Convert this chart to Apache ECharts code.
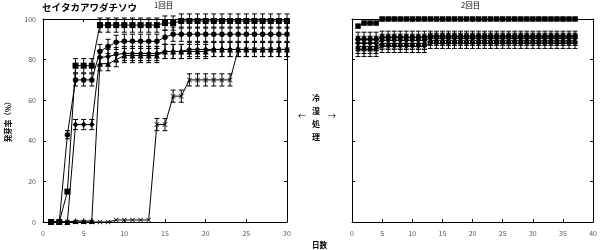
<!DOCTYPE html>
<html><head><meta charset="utf-8">
<script src="https://cdn.jsdelivr.net/npm/echarts@6/dist/echarts.min.js"></script>
<style>html,body{margin:0;padding:0;background:#fff}#c{width:600px;height:250px}</style>
</head><body><div id="c"></div>
<script>
const daysL = [1,2,3,4,5,6,7,8,9,10,11,12,13,14,15,16,17,18,19,20,21,22,23,24,25,26,27,28,29,30];
const daysR = [1,2,3,4,5,6,7,8,9,10,11,12,13,14,15,16,17,18,19,20,21,22,23,24,25,26,27,28,29,30,31,32,33,34,35,36,37];

// 1回目 (left)
const sqL = [0,0,15,77,77,77,97,97,97,97,97,97,97,97,98,98,99,99,99,99,99,99,99,99,99,99,99,99,99,99];
const sqLerr = [0,0,1,3.5,3.5,3.5,3.5,3.5,3.5,3.5,3.5,3.5,3.5,3.5,3.5,3.5,3.5,3.5,3.5,3.5,3.5,3.5,3.5,3.5,3.5,3.5,3.5,3.5,3.5,3.5];
const ciL = [0,0,43,70,70,70,84,86.5,88.5,89,89,89,89,89,91,92.5,92.5,92.5,92.5,92.5,92.5,92.5,92.5,92.5,92.5,92.5,92.5,92.5,92.5,92.5];
const ciLerr = [0,0,2,3,3,3,3.5,3.5,3.5,3.5,3.5,3.5,3.5,3.5,3.5,3.5,3.5,3.5,3.5,3.5,3.5,3.5,3.5,3.5,3.5,3.5,3.5,3.5,3.5,3.5];
const diL = [0,0,0,48,48,48,81,81.5,82.5,83,83,83,83,83,84,84,84,85,85,85,85,85,85,85,85,85,85,85,85,85];
const diLerr = [0,0,0,2.5,2.5,2.5,3.5,3.5,3.5,3.5,3.5,3.5,3.5,3.5,3.5,3.5,3.5,3.5,3.5,3.5,3.5,3.5,3.5,3.5,3.5,3.5,3.5,3.5,3.5,3.5];
const trL = [0,0,0,0.5,0.5,0.5,78,78,80,82,82,82,82,82,84,84,84,84,84,84,85,85,85,85,85,85,85,85,85,85];
const trLerr = [0,0,0,0,0,0,3.5,3.5,3.5,3.5,3.5,3.5,3.5,3.5,3.5,3.5,3.5,3.5,3.5,3.5,3.5,3.5,3.5,3.5,3.5,3.5,3.5,3.5,3.5,3.5];
const xL = [0,0,0,0,0,0,0,0,1,1,1,1,1,48,48,62,62,70,70,70,70,70,70,85,85,85,85,85,85,85];
const xLerr = [0,0,0,0,0,0,0,0,0,0,0,0,0,3,3,3,3,3,3,3,3,3,3,3.5,3.5,3.5,3.5,3.5,3.5,3.5];

// 2回目 (right)
const sqR = [96.5,98,98,98,100,100,100,100,100,100,100,100,100,100,100,100,100,100,100,100,100,100,100,100,100,100,100,100,100,100,100,100,100,100,100,100,100];
const sqRerr = [0,0.5,0.5,0.5,0.5,0.5,0.5,0.5,0.5,0.5,0.5,0.5,0.5,0.5,0.5,0.5,0.5,0.5,0.5,0.5,0.5,0.5,0.5,0.5,0.5,0.5,0.5,0.5,0.5,0.5,0.5,0.5,0.5,0.5,0.5,0.5,0.5];
const ciR = [90,90,90,90,91,91,91,91,91,91,91,91,91.5,91.5,91.5,91.5,91.5,91.5,91.5,91.5,91.5,91.5,91.5,91.5,91.5,91.5,91.5,91.5,91.5,91.5,91.5,91.5,91.5,91.5,91.5,91.5,91.5];
const diR = [88,88,88,88,89.5,89.5,89.5,89.5,89.5,89.5,89.5,89.5,90.5,90.5,90.5,90.5,90.5,90.5,90.5,90.5,90.5,90.5,90.5,90.5,90.5,90.5,90.5,90.5,90.5,90.5,90.5,90.5,90.5,90.5,90.5,90.5,90.5];
const trR = [86.5,86.5,86.5,86.5,88,88,88,88,88,88,88,88,89.5,89.5,89.5,89.5,89.5,89.5,89.5,89.5,89.5,89.5,89.5,89.5,89.5,89.5,89.5,89.5,89.5,89.5,89.5,89.5,89.5,89.5,89.5,89.5,89.5];
const xR = [85,85,85,85,86.5,86.5,86.5,86.5,86.5,86.5,86.5,86.5,88,88,88,88,88,88,88,88,88,88,88,88,88,88,88,88,88,88,88,88,88,88,88,88,88];
const errR = [3.5,3.5,3.5,3.5,3,3,3,3,3,3,3,3,2.5,2.5,2.5,2.5,2.5,2.5,2.5,2.5,2.5,2.5,2.5,2.5,2.5,2.5,2.5,2.5,2.5,2.5,2.5,2.5,2.5,2.5,2.5,2.5,2.5];

const yTicks = [0,20,40,60,80,100];
const xTicksL = [0,5,10,15,20,25,30];
const xTicksR = [0,5,10,15,20,25,30,35,40];

const FONT = '"Noto Sans CJK JP", "DejaVu Sans", sans-serif';
const xSym = 'path://M0,1L1,0L5,4L9,0L10,1L6,5L10,9L9,10L5,6L1,10L0,9L4,5Z';

function pairs(xs, ys){ return xs.map((x,i)=>[x, ys[i]]); }
function errData(xs, ys, es){ return xs.map((x,i)=>[x, ys[i]-es[i], ys[i]+es[i], es[i]]); }

function lineSeries(xi, xs, ys, sym, size){
  return {type:'line', xAxisIndex:xi, yAxisIndex:xi*2, data:pairs(xs,ys), symbol:sym, symbolSize:size,
    showAllSymbol:true, lineStyle:{color:'#000', width:1}, itemStyle:{color:'#000'}, z:3, animation:false};
}
function errSeries(xi, xs, ys, es){
  return {type:'custom', xAxisIndex:xi, yAxisIndex:xi*2, data:errData(xs,ys,es), z:2, animation:false,
    renderItem:function(params, api){
      if (api.value(3) <= 0) return null;
      const x = api.value(0);
      const lo = api.coord([x, api.value(1)]);
      const hi = api.coord([x, api.value(2)]);
      const w = 2.5;
      const st = {stroke:'#000', lineWidth:1};
      return {type:'group', children:[
        {type:'line', shape:{x1:lo[0], y1:lo[1], x2:hi[0], y2:hi[1]}, style:st},
        {type:'line', shape:{x1:lo[0]-w, y1:lo[1], x2:lo[0]+w, y2:lo[1]}, style:st},
        {type:'line', shape:{x1:hi[0]-w, y1:hi[1], x2:hi[0]+w, y2:hi[1]}, style:st}
      ]};
    }};
}

const axisLine = {show:true, onZero:false, lineStyle:{color:'#000', width:1}};
const tick = {show:true, inside:true, length:3, lineStyle:{color:'#000', width:1}};
const lbl = {show:true, fontSize:7, color:'#555', fontFamily:FONT};

function xAx(gi, max, pos, showLbl){
  return {type:'value', gridIndex:gi, min:0, max:max, interval:5, position:pos, axisLine:axisLine, axisTick:tick,
    axisLabel: showLbl ? Object.assign({margin:8}, lbl) : {show:false}, splitLine:{show:false}};
}
function yAx(gi, pos, showLbl){
  return {type:'value', gridIndex:gi, min:0, max:100, interval:20, position:pos, axisLine:axisLine, axisTick:tick,
    axisLabel: showLbl ? Object.assign({margin:7}, lbl) : {show:false}, splitLine:{show:false}};
}

const chart = echarts.init(document.getElementById('c'), null, {renderer:'canvas'});
const txt = (x, y, t, font, align) => ({type:'text', x:x, y:y, style:{text:t, font:font, fill:'#000',
  textAlign:align, textVerticalAlign:'middle', align:align, verticalAlign:'middle'}});
chart.setOption({
  backgroundColor:'#fff',
  animation:false,
  grid:[{left:43, top:19, width:244, height:203}, {left:352, top:19, width:244, height:203}],
  xAxis:[xAx(0,30,'bottom',true), xAx(1,40,'bottom',true), xAx(0,30,'top',false), xAx(1,40,'top',false)],
  yAxis:[yAx(0,'left',true), yAx(0,'right',false), yAx(1,'left',false), yAx(1,'right',false)],
  series:[
    errSeries(0, daysL, xL, xLerr), errSeries(0, daysL, trL, trLerr), errSeries(0, daysL, diL, diLerr),
    errSeries(0, daysL, ciL, ciLerr), errSeries(0, daysL, sqL, sqLerr),
    lineSeries(0, daysL, xL, xSym, 5), lineSeries(0, daysL, trL, 'triangle', 6),
    lineSeries(0, daysL, diL, 'diamond', 6), lineSeries(0, daysL, ciL, 'circle', 5.5),
    lineSeries(0, daysL, sqL, 'rect', 6),
    errSeries(1, daysR, xR, errR), errSeries(1, daysR, trR, errR), errSeries(1, daysR, diR, errR),
    errSeries(1, daysR, ciR, errR), errSeries(1, daysR, sqR, sqRerr),
    lineSeries(1, daysR, xR, xSym, 5), lineSeries(1, daysR, trR, 'triangle', 6),
    lineSeries(1, daysR, diR, 'diamond', 6), lineSeries(1, daysR, ciR, 'circle', 5.5),
    lineSeries(1, daysR, sqR, 'rect', 5.5)
  ],
  graphic:[
    txt(42, 7, 'セイタカアワダチソウ', 'bold 9.5px '+FONT, 'left'),
    txt(154, 5, '1回目', '7.5px '+FONT, 'left'),
    txt(461, 5, '2回目', '7.5px '+FONT, 'left'),
    {type:'text', x:8, y:120, rotation:Math.PI/2, style:{text:'発芽率（%）', font:'bold 7.5px '+FONT, fill:'#000',
      textAlign:'center', textVerticalAlign:'middle', align:'center', verticalAlign:'middle'}},
    txt(316, 98, '冷', 'bold 8px '+FONT, 'center'),
    txt(316, 111, '湿', 'bold 8px '+FONT, 'center'),
    txt(316, 124, '処', 'bold 8px '+FONT, 'center'),
    txt(316, 137, '理', 'bold 8px '+FONT, 'center'),
    txt(302, 116, '←', '8px '+FONT, 'center'),
    txt(332, 116, '→', '8px '+FONT, 'center'),
    txt(312, 245, '日数', 'bold 7.5px '+FONT, 'left')
  ]
});
</script>
</body></html>
